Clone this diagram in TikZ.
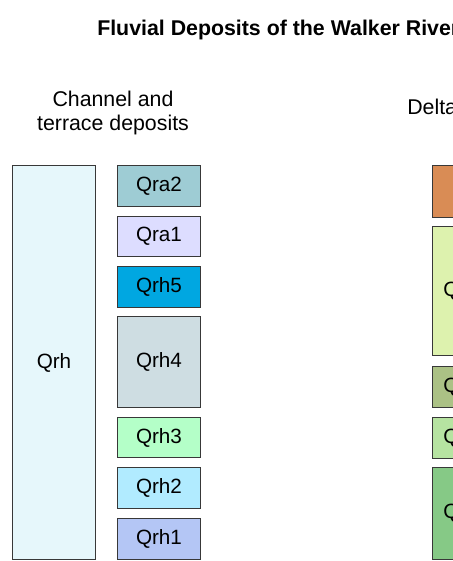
\documentclass[tikz,border=0pt]{standalone}
\usepackage{fontspec}
\setmainfont{Liberation Sans}
\newlength{\du}
\setlength{\du}{0.75pt}
\definecolor{boxline}{HTML}{383838}
\definecolor{qrhfill}{HTML}{E6F7FB}
\definecolor{qratwofill}{HTML}{9ECCD4}
\definecolor{qraonefill}{HTML}{DDDDFF}
\definecolor{qrhfivefill}{HTML}{00A7E1}
\definecolor{qrhfourfill}{HTML}{CEDDE2}
\definecolor{qrhthreefill}{HTML}{B4FFC8}
\definecolor{qrhtwofill}{HTML}{B1EBFF}
\definecolor{qrhonefill}{HTML}{B4C6F5}
\definecolor{deltaafill}{HTML}{D98C55}
\definecolor{deltabfill}{HTML}{DDF2AE}
\definecolor{deltacfill}{HTML}{ABC185}
\definecolor{deltadfill}{HTML}{B6E3A1}
\definecolor{deltaefill}{HTML}{86C986}
\tikzset{
  unitbox/.style={draw=boxline, line width=1.1pt, minimum width=83\du, inner sep=0pt,
    font=\fontsize{15.5}{18}\selectfont},
  unittext/.style={inner sep=0pt, font=\fontsize{15.5}{18}\selectfont},
  headtext/.style={inner sep=0pt, align=center, font=\fontsize{16}{18}\selectfont}
}
\begin{document}
\begin{tikzpicture}[x=1\du,y=-1\du]
\useasboundingbox (0,0) rectangle (453,561);
\clip (0,0) rectangle (453,561);
% title and column heads
\node[anchor=base west, inner sep=0pt, font=\bfseries\fontsize{16}{18}\selectfont] (title) at (97,35) {Fluvial Deposits of the Walker River};
\node[headtext] (channelhead) at (113,113) {Channel and\\terrace deposits};
\node[headtext, anchor=base west] (deltahead) at (407,114) {Delta};
% channel and terrace column
\node[unitbox, fill=qrhfill, minimum height=394\du] (qrh) at (54,362.5) {Qrh};
\node[unitbox, fill=qratwofill, minimum height=41\du] (qra2) at (159,186) {Qra2};
\node[unitbox, fill=qraonefill, minimum height=40\du] (qra1) at (159,236.5) {Qra1};
\node[unitbox, fill=qrhfivefill, minimum height=41\du] (qrh5) at (159,287) {Qrh5};
\node[unitbox, fill=qrhfourfill, minimum height=91\du] (qrh4) at (159,362) {Qrh4};
\node[unitbox, fill=qrhthreefill, minimum height=40\du] (qrh3) at (159,437.5) {Qrh3};
\node[unitbox, fill=qrhtwofill, minimum height=41\du] (qrh2) at (159,488) {Qrh2};
\node[unitbox, fill=qrhonefill, minimum height=41\du] (qrh1) at (159,539) {Qrh1};
% delta column
\node[unitbox, fill=deltaafill, minimum height=52\du] (delta1) at (474,191.5) {};
\node[unitbox, fill=deltabfill, minimum height=129\du] (delta2) at (474,291) {};
\node[unitbox, fill=deltacfill, minimum height=41\du] (delta3) at (474,387) {};
\node[unitbox, fill=deltadfill, minimum height=41\du] (delta4) at (474,438) {};
\node[unitbox, fill=deltaefill, minimum height=92\du] (delta5) at (474,513.5) {};
\node[unittext, anchor=west] (delta2txt) at (443,291) {Q};
\node[unittext, anchor=west] (delta3txt) at (443,387) {Q};
\node[unittext, anchor=west] (delta4txt) at (443,438) {Q};
\node[unittext, anchor=west] (delta5txt) at (443,513.5) {Q};
\end{tikzpicture}
\end{document}
